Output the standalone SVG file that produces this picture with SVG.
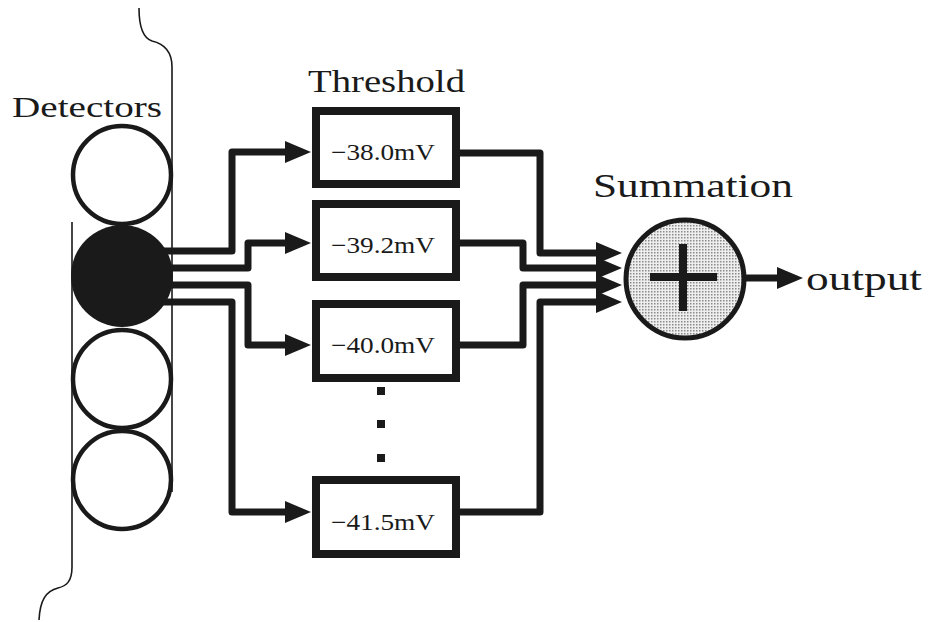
<svg xmlns="http://www.w3.org/2000/svg" width="930" height="622" viewBox="0 0 930 622">
<style>
.lbl{font-family:"Liberation Serif","Times New Roman",serif;fill:#1a1a1a}
.box{fill:#fff;stroke:#1a1a1a;stroke-width:8}
.det{fill:#fff;stroke:#1a1a1a;stroke-width:4.5}
.wire{fill:none;stroke:#1a1a1a;stroke-width:7;stroke-linejoin:round}
.thin{fill:none;stroke:#1a1a1a;stroke-width:1.6}
</style>
<defs>
<marker id="ah" markerUnits="userSpaceOnUse" markerWidth="28" markerHeight="24" refX="0" refY="11" orient="auto">
<path d="M0,0 L26,11 L0,22 Z" fill="#1a1a1a"/>
</marker>
<pattern id="stip" width="3" height="3" patternUnits="userSpaceOnUse">
<rect width="3" height="3" fill="#eeeeee"/>
<rect x="0" y="0" width="1.5" height="1.5" fill="#8a8a8a"/>
</pattern>
</defs>
<rect width="930" height="622" fill="#fff"/>

<g id="detectors">
<path class="thin" d="M139,8 C139,28 143,38 152,41 C165,44 172,52 172,67 V492"/>
<path class="thin" d="M72,222 V567 C72,582 66,586 58,588 C46,591 40,600 39,620"/>
<circle class="det" cx="122" cy="175" r="49"/>
<circle cx="122" cy="276" r="51" fill="#1a1a1a"/>
<circle class="det" cx="122" cy="379" r="49"/>
<circle class="det" cx="122" cy="480" r="49"/>
<text class="lbl" x="12" y="117" font-size="30" textLength="150" lengthAdjust="spacingAndGlyphs">Detectors</text>
</g>

<g id="threshold-label">
<text class="lbl" x="308" y="92" font-size="31" textLength="157" lengthAdjust="spacingAndGlyphs">Threshold</text>
</g>

<g id="box1">
<rect class="box" x="316" y="111" width="140" height="73"/>
<text class="lbl" x="383" y="160" font-size="23" text-anchor="middle" textLength="104" lengthAdjust="spacingAndGlyphs">−38.0mV</text>
</g>
<g id="box2">
<rect class="box" x="316" y="204" width="140" height="73"/>
<text class="lbl" x="383" y="253" font-size="23" text-anchor="middle" textLength="104" lengthAdjust="spacingAndGlyphs">−39.2mV</text>
</g>
<g id="box3">
<rect class="box" x="316" y="304" width="140" height="74"/>
<text class="lbl" x="383" y="353" font-size="23" text-anchor="middle" textLength="104" lengthAdjust="spacingAndGlyphs">−40.0mV</text>
</g>
<g id="box4">
<rect class="box" x="316" y="480" width="140" height="74"/>
<text class="lbl" x="383" y="530" font-size="23" text-anchor="middle" textLength="104" lengthAdjust="spacingAndGlyphs">−41.5mV</text>
</g>

<g id="ellipsis" fill="#1a1a1a">
<rect x="377" y="387" width="8" height="8"/>
<rect x="377" y="420" width="8" height="8"/>
<rect x="377" y="454" width="8" height="8"/>
</g>

<g id="summation">
<circle cx="685" cy="279" r="59" fill="url(#stip)" stroke="#1a1a1a" stroke-width="5"/>
<path d="M650,277 H717 M683,244 V311" stroke="#1a1a1a" stroke-width="8" fill="none"/>
<text class="lbl" x="593" y="197" font-size="34" textLength="200" lengthAdjust="spacingAndGlyphs">Summation</text>
</g>

<g id="output">
<text class="lbl" x="806" y="290" font-size="34" textLength="116" lengthAdjust="spacingAndGlyphs">output</text>
</g>

<g id="connectors">
<path class="wire" marker-end="url(#ah)" d="M160,251 H232 V152 H285"/>
<path class="wire" marker-end="url(#ah)" d="M160,268 H248 V243 H285"/>
<path class="wire" marker-end="url(#ah)" d="M160,285 H248 V345 H285"/>
<path class="wire" marker-end="url(#ah)" d="M160,302 H232 V512 H285"/>
<path class="wire" marker-end="url(#ah)" d="M460,153 H540 V253 H596"/>
<path class="wire" marker-end="url(#ah)" d="M460,243 H523 V268 H596"/>
<path class="wire" marker-end="url(#ah)" d="M460,345 H523 V285 H596"/>
<path class="wire" marker-end="url(#ah)" d="M460,512 H540 V302 H596"/>
<path class="wire" marker-end="url(#ah)" d="M745,278 H777"/>
</g>
</svg>
